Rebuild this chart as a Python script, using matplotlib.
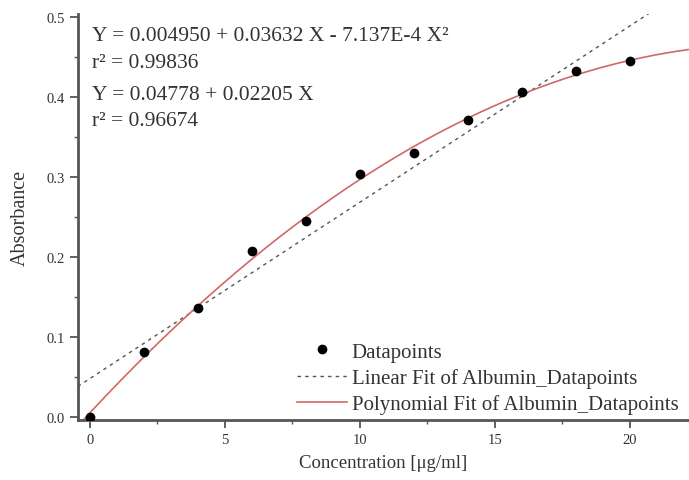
import numpy as np
import matplotlib
matplotlib.use("Agg")
import matplotlib.pyplot as plt
from matplotlib.ticker import MultipleLocator

# values
conc = [0, 2, 4, 6, 8, 10, 12, 14, 16, 18, 20]
absorb = [0.000, 0.081, 0.136, 0.207, 0.245, 0.304, 0.330, 0.371, 0.406, 0.433, 0.445]

lin_coef = [0.04778, 0.02205]
poly_coef = [0.004950, 0.03632, -7.137e-4]

eq_lines = [
    "Y = 0.004950 + 0.03632 X - 7.137E-4 X\u00b2",
    "r\u00b2 = 0.99836",
    "Y = 0.04778 + 0.02205 X",
    "r\u00b2 = 0.96674",
]
eq_y = [0.925, 0.869, 0.802, 0.747]

plt.rcParams["font.family"] = ["Liberation Serif", "DejaVu Serif"]
ink = "#333333"

fig = plt.figure(figsize=(6.89, 4.81), dpi=100)
ax = fig.add_axes([0.113, 0.125, 0.887, 0.844])

xmin, xmax = -0.45, 22.2
xs = np.linspace(xmin, xmax, 300)
lin = lin_coef[0] + lin_coef[1] * xs
poly = poly_coef[0] + poly_coef[1] * xs + poly_coef[2] * xs ** 2

ax.plot(conc, absorb, "o", color="black", markersize=6, label="Datapoints", zorder=3)
ax.plot(xs, lin, color="#555555", linestyle=(0, (2.5, 3)), linewidth=1.0,
        label="Linear Fit of Albumin_Datapoints")
ax.plot(xs, poly, color="#d06868", linewidth=1.2,
        label="Polynomial Fit of Albumin_Datapoints")

ax.set_xlim(xmin, xmax)
ax.set_ylim(-0.004, 0.504)
ax.xaxis.set_major_locator(MultipleLocator(5))
ax.xaxis.set_minor_locator(MultipleLocator(2.5))
ax.yaxis.set_major_locator(MultipleLocator(0.1))
ax.yaxis.set_minor_locator(MultipleLocator(0.05))
ax.yaxis.set_major_formatter(plt.FuncFormatter(lambda v, p: f"{v:.1f}"))

for s in ("top", "right"):
    ax.spines[s].set_visible(False)
for s in ("left", "bottom"):
    ax.spines[s].set_linewidth(2)
    ax.spines[s].set_color("#555555")

ax.tick_params(which="major", length=6, width=1.3, color="#555555",
               labelsize=10.5, labelcolor=ink)
ax.tick_params(which="minor", length=3, width=1.0, color="#555555")

ax.set_xlabel("Concentration [\u03bcg/ml]", fontsize=13.5, color=ink, labelpad=6)
ax.set_ylabel("Absorbance", fontsize=14.5, color=ink, labelpad=12)

for t, yy in zip(eq_lines, eq_y):
    fig.text(0.134, yy, t, fontsize=15.5, color=ink, va="center")

ax.legend(loc="lower left", bbox_to_anchor=(0.345, -0.006), frameon=False,
          fontsize=15, handlelength=2.4, handletextpad=0.22,
          labelspacing=0.3, borderaxespad=0, labelcolor=ink)

fig.savefig("out.png", dpi=100)
